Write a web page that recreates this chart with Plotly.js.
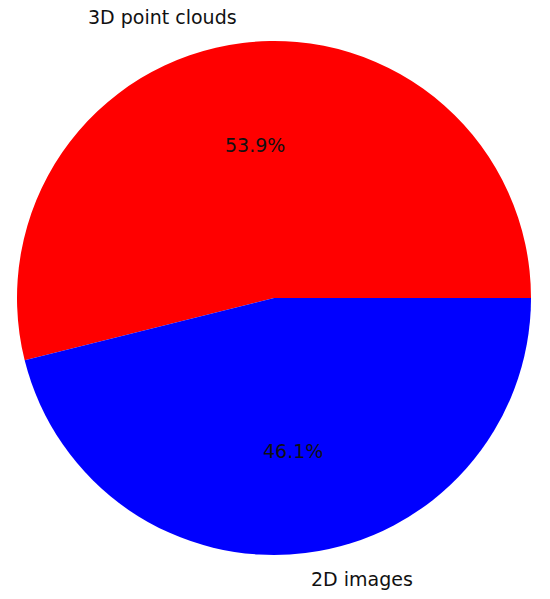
<!DOCTYPE html>
<html>
<head>
<meta charset="utf-8">
<script src="https://cdn.plot.ly/plotly-3.0.1.min.js"></script>
<style>
  html, body { margin: 0; padding: 0; background: #fff; }
  #chart { width: 550px; height: 599px; }
</style>
</head>
<body>
<div id="chart"></div>
<script>
// data
const labels = ['3D point clouds', '2D images'];
const values = [53.9, 46.1];
const colors = ['#ff0000', '#0000ff'];

// pie geometry in pixels (matplotlib-like placement)
const W = 550, H = 599;
const cx = 274, cy = 301, R = 257;

const total = values.reduce((a, b) => a + b, 0);

// labels at 1.1 R, percentages at 0.6 R, like matplotlib's pie
const annotations = [];
let start = 0;
values.forEach((v, i) => {
    const mid = (start + v / 2) / total * 2 * Math.PI;
    start += v;
    const c = Math.cos(mid), s = Math.sin(mid);
    annotations.push({
        xref: 'paper', yref: 'paper',
        x: (cx + 1.1 * R * c) / W, y: (cy + 1.1 * R * s) / H,
        xanchor: c < 0 ? 'right' : 'left', yanchor: 'middle',
        text: labels[i], showarrow: false,
        font: { family: 'DejaVu Sans', size: 19, color: '#111' }
    });
    annotations.push({
        xref: 'paper', yref: 'paper',
        x: (cx + 0.6 * R * c) / W, y: (cy + 0.6 * R * s) / H,
        xanchor: 'center', yanchor: 'middle',
        text: (v / total * 100).toFixed(1) + '%', showarrow: false,
        font: { family: 'DejaVu Sans', size: 19, color: '#111' }
    });
});

// first slice starts at 3 o'clock and runs counterclockwise
const trace = {
    type: 'pie',
    labels: labels,
    values: values,
    marker: { colors: colors, line: { width: 0 } },
    sort: false,
    direction: 'counterclockwise',
    rotation: 90 - values[0] / total * 360,
    textinfo: 'none',
    hoverinfo: 'none',
    showlegend: false,
    domain: { x: [(cx - R) / W, (cx + R) / W], y: [(cy - R) / H, (cy + R) / H] }
};

const layout = {
    width: W, height: H,
    margin: { l: 0, r: 0, t: 0, b: 0 },
    paper_bgcolor: '#fff',
    showlegend: false,
    annotations: annotations
};

Plotly.newPlot('chart', [trace], layout, { displayModeBar: false, staticPlot: true });
</script>
</body>
</html>
